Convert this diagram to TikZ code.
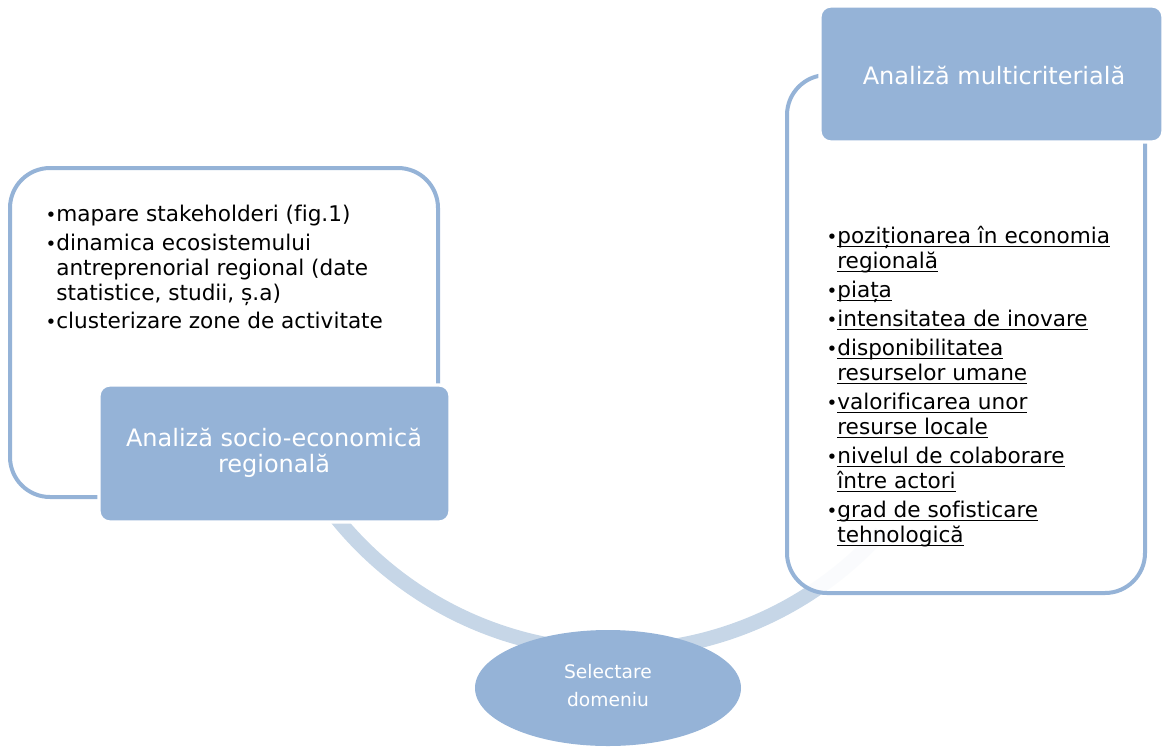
\documentclass[tikz,border=0pt]{standalone}
\usepackage{fontspec}
\setmainfont[Ligatures=NoCommon]{DejaVu Sans}
\usetikzlibrary{shapes.geometric}

\definecolor{boxblue}{RGB}{149,179,215}
\definecolor{arcblue}{RGB}{198,214,231}

\tikzset{every picture/.style={line width=0.75pt}}
\tikzset{
  frame/.style={draw=boxblue, line width=3pt, rounded corners=30, fill=white, fill opacity=0.92, text opacity=1},
  titlebox/.style={fill=boxblue, draw=white, line width=2.5pt, rounded corners=8},
  titletext/.style={text=white, align=center, font=\fontsize{18}{19.5}\selectfont},
  listtext/.style={anchor=north west, inner sep=0pt, align=left, font=\fontsize{16.2}{18.75}\selectfont}
}
\newcommand{\blt}{\makebox[0.5em][l]{\scalebox{0.85}{•}}}
\newcommand{\ind}{\hspace*{0.5em}}
\newsavebox{\ulbox}
\newcommand{\ul}[1]{\sbox{\ulbox}{#1}\rlap{\rule[-2.4pt]{\wd\ulbox}{1.1pt}}\usebox{\ulbox}}

\begin{document}
\begin{tikzpicture}[x=0.75pt,y=0.75pt,yscale=-1]
\useasboundingbox (0,0) rectangle (1164,747);

% arc of the cycle
\coordinate (arccentre) at (615,293);
\draw [arcblue, line width=11pt] (arccentre) ++(150:358) arc (150:42:358);

% frames
\draw [frame] (10,168) rectangle (438,497);
\draw [frame] (787,75) rectangle (1145,593);

% title boxes
\draw [titlebox] (99,385) rectangle (450,522);
\draw [titlebox] (820,6) rectangle (1163,142);
\draw [fill=boxblue, draw=none] (608,688) ellipse (133 and 58);

\draw (274,453) node (socio) [titletext] {Analiză socio-economică\\regională};
\draw (994,75) node (multi) [titletext] {Analiză multicriterială};
\draw (608,686) node (domeniu) [text=white, align=center, font=\fontsize{14}{21}\selectfont] {Selectare\\domeniu};

% lists
\draw (45,205) node (listsocio) [listtext] {%
\blt mapare stakeholderi (fig.1)\\[2.5pt]
\blt dinamica ecosistemului\\
\ind antreprenorial regional (date\\
\ind statistice, studii, ș.a)\\[2.5pt]
\blt clusterizare zone de activitate};

\draw (826,226) node (listmulti) [listtext] {%
\blt\ul{poziționarea în economia}\\
\ind\ul{regională}\\[3pt]
\blt\ul{piața}\\[3pt]
\blt\ul{intensitatea de inovare}\\[3pt]
\blt\ul{disponibilitatea}\\
\ind\ul{resurselor umane}\\[3pt]
\blt\ul{valorificarea unor}\\
\ind\ul{resurse locale}\\[3pt]
\blt\ul{nivelul de colaborare}\\
\ind\ul{între actori}\\[3pt]
\blt\ul{grad de sofisticare}\\
\ind\ul{tehnologică}};

\end{tikzpicture}
\end{document}
